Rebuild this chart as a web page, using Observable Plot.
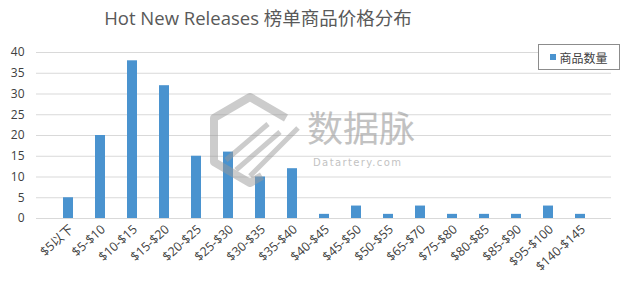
<!DOCTYPE html>
<html>
<head>
<meta charset="utf-8">
<script src="https://cdn.jsdelivr.net/npm/d3@7"></script>
<script src="https://cdn.jsdelivr.net/npm/@observablehq/plot@0.6"></script>
<style>
  html, body { margin: 0; padding: 0; background: #fff; }
  #wrap { position: relative; width: 637px; height: 283px; overflow: hidden; }
  #title {
    width: 516px; height: 40px; line-height: 36px; text-align: center;
    font-family: "Open Sans", "Noto Sans CJK SC", sans-serif;
    font-size: 18.5px; color: #595959; white-space: nowrap;
  }
  #legend {
    position: absolute; left: 538px; top: 44px; width: 80px; height: 24px;
    border: 1px solid #8c8c8c; background: #fff;
    font-family: "Noto Sans CJK SC", sans-serif; font-size: 12px; color: #404040;
    display: flex; align-items: center; justify-content: center; gap: 3px;
  }
  #legend span.sw { width: 6px; height: 6px; background: #4a93cf; display: inline-block; }
  #mark { position: absolute; left: 0; top: 0; pointer-events: none; }
</style>
</head>
<body>
<div id="wrap">
  <div id="title">Hot New Releases 榜单商品价格分布</div>
  <div id="chart"></div>
  <div id="legend"><span class="sw"></span>商品数量</div>
</div>
<script>
// Price bands and number of products in each band
const priceBands = ["$5以下", "$5-$10", "$10-$15", "$15-$20", "$20-$25", "$25-$30", "$30-$35", "$35-$40",
  "$40-$45", "$45-$50", "$50-$55", "$65-$70", "$75-$80", "$80-$85", "$85-$90", "$95-$100", "$140-$145"];
const productCounts = [5, 20, 38, 32, 15, 16, 10, 12, 1, 3, 1, 3, 1, 1, 1, 3, 1];
const yTicks = [0, 5, 10, 15, 20, 25, 30, 35, 40];

const rows = priceBands.map((band, i) => ({band, count: productCounts[i]}));

const chart = Plot.plot({
  width: 637,
  height: 243,
  marginLeft: 36,
  marginRight: 26,
  marginTop: 12,
  marginBottom: 65,
  style: {fontFamily: "'Open Sans', 'Noto Sans CJK SC', sans-serif", fontSize: "12px", color: "#404040", background: "transparent"},
  x: {domain: priceBands, padding: 0.7, label: null},
  y: {domain: [0, 40], label: null},
  marks: [
    Plot.gridY(yTicks, {stroke: "#d9d9d9", strokeOpacity: 1}),
    Plot.barY(rows, {x: "band", y: "count", fill: "#4a93cf"}),
    Plot.ruleY([0], {stroke: "#d9d9d9"}),
    Plot.axisY(yTicks, {tickSize: 0, tickPadding: 12, fontSize: 12, fill: "#404040"}),
    Plot.axisX({tickSize: 0, tickRotate: -42, tickPadding: 9, dx: 3, fontSize: 12.5, fill: "#404040"})
  ]
});
document.getElementById("chart").appendChild(chart);

// Faint site watermark over the plot area
const ns = "http://www.w3.org/2000/svg";
const wm = document.createElementNS(ns, "svg");
wm.setAttribute("id", "mark");
wm.setAttribute("width", 637);
wm.setAttribute("height", 283);
wm.innerHTML = `
  <g opacity="0.5" fill="none" stroke="#9a9a9a">
    <path d="M286,118 L250,97 L214,118 L214,162 L250,183 L262,176" stroke-width="8" stroke-linejoin="round"/>
    <path d="M226,160 L268,124 M236,170 L280,132 M250,176 L298,128" stroke-width="5"/>
  </g>
  <text x="307" y="142" font-family="'Noto Sans CJK SC', sans-serif" font-size="36" fill="#9a9a9a" opacity="0.6">数据脉</text>
  <text x="313" y="166" font-family="'DejaVu Sans', sans-serif" font-size="10" letter-spacing="1.4" fill="#9a9a9a" opacity="0.6">Datartery.com</text>`;
document.getElementById("wrap").appendChild(wm);
</script>
</body>
</html>
